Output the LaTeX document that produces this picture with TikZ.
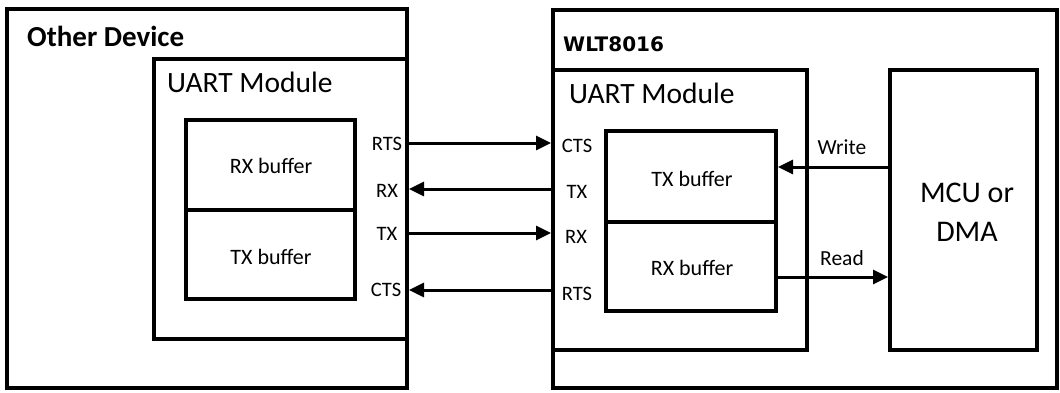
\documentclass[tikz,border=0pt]{standalone}
\usepackage{fontspec}
\setmainfont{Carlito}
\newfontfamily\titlefont{DejaVu Sans}
\usetikzlibrary{arrows.meta}
\begin{document}
\begin{tikzpicture}[x=1pt,y=-1pt,
  box/.style={draw=black,line width=4pt,rectangle,inner sep=0pt},
  arr/.style={line width=3pt,-{Triangle[length=15pt,width=14pt]}},
  sig/.style={font=\fontsize{20.5}{20.5}\selectfont,inner sep=0pt},
  buf/.style={font=\fontsize{22}{22}\selectfont,inner sep=0pt},
  uart/.style={font=\fontsize{29.5}{29.5}\selectfont,inner sep=0pt,anchor=base west}]
\useasboundingbox (0,0) rectangle (1060,392);
% left device
\node[box,minimum width=400pt,minimum height=379pt] (lout) at (207,198.5) {};
\node[box,minimum width=253pt,minimum height=280pt] (luart) at (280.5,199) {};
\node[box,minimum width=169pt,minimum height=90pt] (lrxb) at (270.5,165) {};
\node[box,minimum width=169pt,minimum height=89pt] (ltxb) at (270.5,254.5) {};
\node[font=\fontsize{29}{29}\selectfont\bfseries,inner sep=0pt,anchor=base west] (ltitle) at (27,46) {Other Device};
\node[uart] (luartl) at (167,92) {UART Module};
\node[buf] (lrxbl) at (271,166) {RX buffer};
\node[buf] (ltxbl) at (271,257) {TX buffer};
\node[sig] (lrts) at (387,144) {RTS};
\node[sig] (lrx) at (387,191) {RX};
\node[sig] (ltx) at (387,234) {TX};
\node[sig] (lcts) at (386,290) {CTS};
% right device
\node[box,minimum width=504pt,minimum height=378pt] (rout) at (805,199) {};
\node[box,minimum width=254pt,minimum height=280pt] (ruart) at (680,210) {};
\node[box,minimum width=170pt,minimum height=91pt] (rtxb) at (691,176.5) {};
\node[box,minimum width=170pt,minimum height=89pt] (rrxb) at (691,266.5) {};
\node[box,minimum width=147pt,minimum height=280pt] (mcu) at (963.5,210) {};
\node[font=\fontsize{20}{20}\titlefont\bfseries,inner sep=0pt,anchor=base west] (rtitle) at (563,51) {WLT8016};
\node[uart] (ruartl) at (569,103) {UART Module};
\node[buf] (rtxbl) at (692,179) {TX buffer};
\node[buf] (rrxbl) at (692,268) {RX buffer};
\node[sig] (rcts) at (577,146) {CTS};
\node[sig] (rtx) at (577,192) {TX};
\node[sig] (rrx) at (576,237) {RX};
\node[sig] (rrts) at (577,294) {RTS};
\node[font=\fontsize{30}{39}\selectfont,inner sep=0pt,align=center] (mcul) at (967,212) {MCU or\\DMA};
\node[sig,font=\fontsize{21.5}{21.5}\selectfont] (wr) at (842,147) {Write};
\node[sig,font=\fontsize{21.5}{21.5}\selectfont] (rd) at (842,258) {Read};
% connectors
\coordinate (y1) at (0,143);
\coordinate (y2) at (0,189);
\coordinate (y3) at (0,233);
\coordinate (y4) at (0,290);
\coordinate (y5) at (0,167);
\coordinate (y6) at (0,277);
\draw[arr] (luart.east |- y1) -- (ruart.west |- y1);
\draw[arr] (ruart.west |- y2) -- (luart.east |- y2);
\draw[arr] (luart.east |- y3) -- (ruart.west |- y3);
\draw[arr] (ruart.west |- y4) -- (luart.east |- y4);
\draw[arr] (mcu.west |- y5) -- (rtxb.east |- y5);
\draw[arr] (rrxb.east |- y6) -- (mcu.west |- y6);
\end{tikzpicture}
\end{document}
